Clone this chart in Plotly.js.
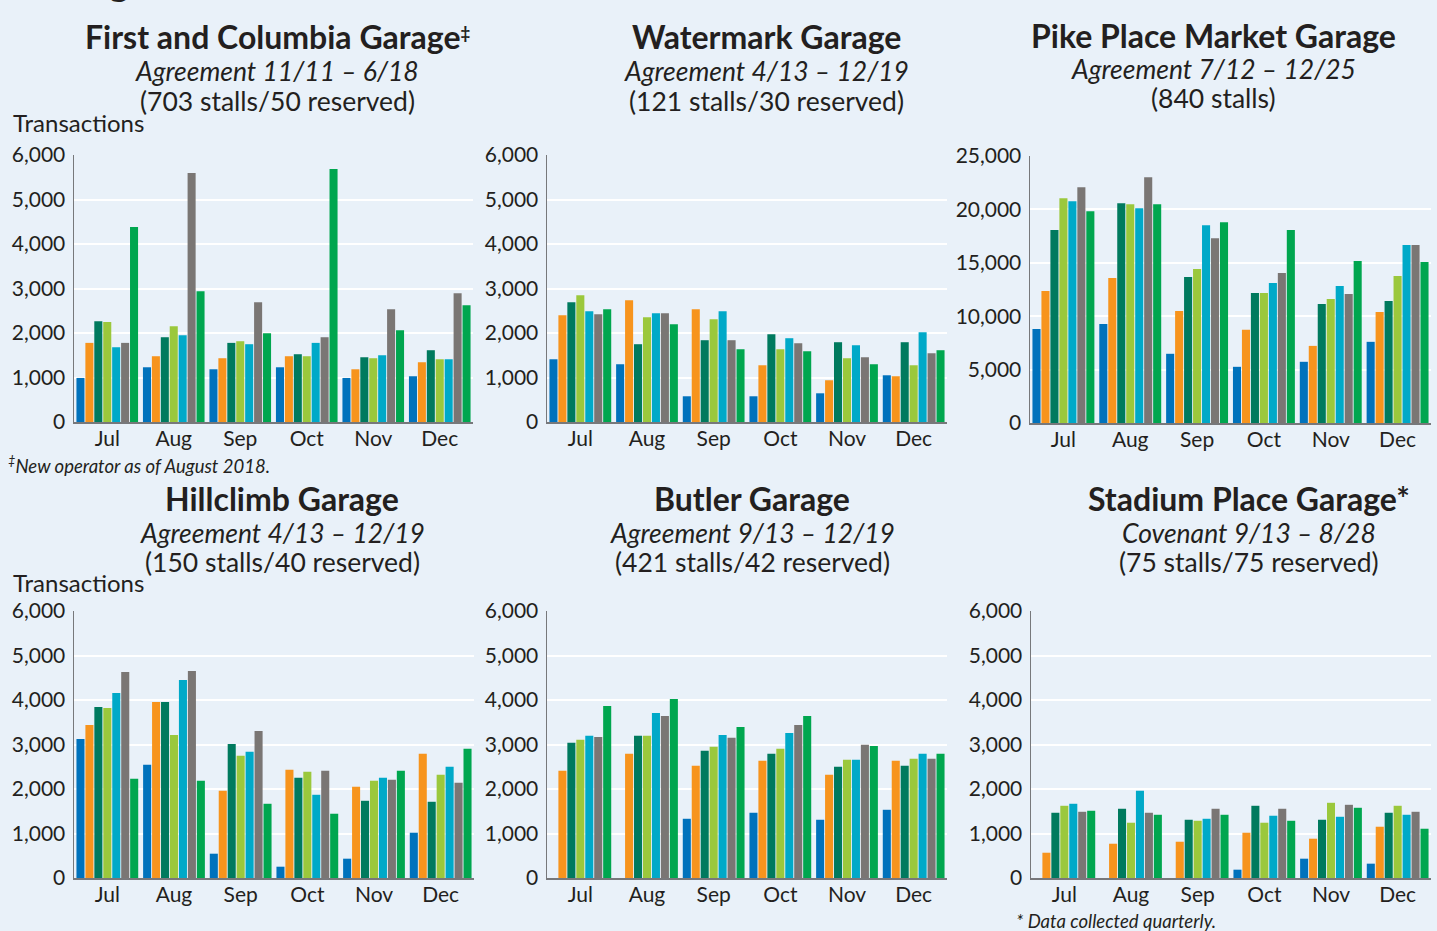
<!DOCTYPE html>
<html>
<head>
<meta charset="utf-8">
<script src="https://cdn.plot.ly/plotly-3.0.1.min.js"></script>
<style>
html,body{margin:0;padding:0;background:#e9f1f9;}
#chart{width:1437px;height:931px;}
</style>
</head>
<body>
<div id="chart"></div>
<script>
// ---- DATA ----
const months = ['Jul', 'Aug', 'Sep', 'Oct', 'Nov', 'Dec'];
const seriesNames = ['Series 1', 'Series 2', 'Series 3', 'Series 4', 'Series 5', 'Series 6', 'Series 7'];
const seriesColors = ['#0072bc', '#f7941d', '#007a5e', '#9bc83c', '#00a9c8', '#7a7674', '#00a64f'];

// rows = series (7), columns = months Jul..Dec
const firstColumbia = [
  [990, 1230, 1185, 1230, 990, 1028],
  [1778, 1478, 1433, 1478, 1185, 1343],
  [2265, 1905, 1778, 1523, 1455, 1613],
  [2250, 2153, 1815, 1478, 1433, 1410],
  [1680, 1950, 1748, 1778, 1500, 1410],
  [1778, 5596, 2693, 1905, 2535, 2895],
  [4380, 2940, 1995, 5686, 2063, 2625]
];
const watermark = [
  [1410, 1298, 578, 578, 645, 1050],
  [2400, 2738, 2535, 1275, 938, 1028],
  [2693, 1748, 1838, 1973, 1793, 1793],
  [2850, 2355, 2310, 1635, 1433, 1275],
  [2490, 2445, 2490, 1883, 1725, 2018],
  [2423, 2445, 1838, 1770, 1455, 1545],
  [2535, 2198, 1635, 1590, 1298, 1613]
];
const pikePlace = [
  [8810, 9280, 6480, 5260, 5730, 7600],
  [12360, 13570, 10490, 8720, 7220, 10400],
  [18060, 20580, 13670, 12170, 11150, 11430],
  [21050, 20490, 14410, 12170, 11610, 13760],
  [20770, 20110, 18520, 13110, 12830, 16660],
  [22070, 23010, 17310, 14040, 12080, 16660],
  [19830, 20490, 18800, 18060, 15160, 15070]
];
const hillclimb = [
  [3126, 2543, 546, 254, 434, 1017],
  [3441, 3957, 1960, 2431, 2049, 2790],
  [3845, 3957, 3014, 2251, 1735, 1713],
  [3822, 3216, 2745, 2386, 2184, 2319],
  [4159, 4450, 2835, 1870, 2251, 2498],
  [4630, 4652, 3306, 2408, 2206, 2139],
  [2229, 2184, 1668, 1444, 2408, 2902]
];
const butler = [
  [null, null, 1331, 1466, 1309, 1533],
  [2408, 2790, 2521, 2633, 2319, 2633],
  [3037, 3194, 2857, 2790, 2498, 2521],
  [3104, 3194, 2947, 2902, 2655, 2678],
  [3194, 3710, 3216, 3261, 2655, 2790],
  [3171, 3642, 3149, 3441, 2992, 2678],
  [3867, 4024, 3396, 3642, 2969, 2790]
];
const stadiumPlace = [
  [null, null, null, 187, 434, 322],
  [568, 770, 815, 1017, 883, 1152],
  [1466, 1556, 1309, 1623, 1309, 1466],
  [1623, 1242, 1286, 1242, 1690, 1623],
  [1668, 1960, 1331, 1399, 1376, 1421],
  [1488, 1466, 1556, 1556, 1645, 1488],
  [1511, 1421, 1421, 1286, 1578, 1107]
];

const garageTitles = ['First and Columbia Garage<span style="font-size:24px"><sup>‡</sup></span>', 'Watermark Garage', 'Pike Place Market Garage',
  'Hillclimb Garage', 'Butler Garage', 'Stadium Place Garage*'];
const garageTerms = ['Agreement 11/11 – 6/18', 'Agreement 4/13 – 12/19', 'Agreement 7/12 – 12/25',
  'Agreement 4/13 – 12/19', 'Agreement 9/13 – 12/19', 'Covenant 9/13 – 8/28'];
const garageStalls = ['(703 stalls/50 reserved)', '(121 stalls/30 reserved)', '(840 stalls)',
  '(150 stalls/40 reserved)', '(421 stalls/42 reserved)', '(75 stalls/75 reserved)'];
const yMax = [6000, 6000, 25000, 6000, 6000, 6000];
const yStep = [1000, 1000, 5000, 1000, 1000, 1000];
const panels = [firstColumbia, watermark, pikePlace, hillclimb, butler, stadiumPlace];

// ---- LAYOUT GEOMETRY (pixels) ----
const W = 1437, H = 931;
const boxes = [
  [74, 473, 155, 422], [547, 947, 155, 422], [1030, 1431, 156, 423],
  [74, 474, 611, 878], [547, 947, 611, 878], [1031, 1431, 611, 878]
];
const titlePos = [[277, 37, 71, 101], [766, 37, 71, 101], [1213, 35, 69, 98],
  [282, 499, 533, 562], [752, 499, 533, 562], [1249, 499, 533, 562]];

const textColor = '#231f20';
const fontFam = 'Lato, "Open Sans", sans-serif';

const traces = [];
const layout = {
  width: W, height: H,
  margin: {l: 0, r: 0, t: 0, b: 0},
  paper_bgcolor: '#e9f1f9', plot_bgcolor: '#e9f1f9',
  barmode: 'group', bargap: 0.06, bargroupgap: 0.1,
  showlegend: false,
  font: {family: fontFam, color: textColor, size: 21},
  annotations: []
};

panels.forEach((data, p) => {
  const n = p + 1;
  const xa = 'x' + (n === 1 ? '' : n), ya = 'y' + (n === 1 ? '' : n);
  data.forEach((vals, s) => {
    traces.push({
      type: 'bar', x: months, y: vals, name: seriesNames[s],
      marker: {color: seriesColors[s], line: {width: 0}},
      xaxis: xa, yaxis: ya, hoverinfo: 'x+y+name'
    });
  });
  const b = boxes[p];
  layout['xaxis' + (n === 1 ? '' : n)] = {
    domain: [b[0] / W, b[1] / W], anchor: ya, automargin: false,
    showline: true, linecolor: '#77787b', linewidth: 2,
    showgrid: false, ticks: '', ticklabelstandoff: -3, tickfont: {size: 21, color: textColor},
    fixedrange: true
  };
  layout['yaxis' + (n === 1 ? '' : n)] = {
    domain: [1 - b[3] / H, 1 - b[2] / H], anchor: xa, automargin: false,
    range: [0, yMax[p]], dtick: yStep[p], tick0: 0, tickformat: ',d',
    showline: true, linecolor: '#77787b', linewidth: 1.5,
    showgrid: true, gridcolor: '#ffffff', gridwidth: 2, zeroline: false,
    ticks: '', ticklabelstandoff: 3, tickfont: {size: 21, color: textColor},
    fixedrange: true
  };
  const t = titlePos[p];
  layout.annotations.push(
    {text: '<b>' + garageTitles[p] + '</b>', x: t[0] / W, y: 1 - t[1] / H, xref: 'paper', yref: 'paper',
     xanchor: 'center', yanchor: 'middle', showarrow: false, font: {size: 32, color: textColor}},
    {text: '<i>' + garageTerms[p] + '</i>', x: t[0] / W, y: 1 - t[2] / H, xref: 'paper', yref: 'paper',
     xanchor: 'center', yanchor: 'middle', showarrow: false, font: {size: 26.5, color: textColor}},
    {text: garageStalls[p], x: t[0] / W, y: 1 - t[3] / H, xref: 'paper', yref: 'paper',
     xanchor: 'center', yanchor: 'middle', showarrow: false, font: {size: 26.5, color: textColor}}
  );
});

layout.annotations.push(
  {text: '<b>g</b>', x: 119 / W, y: 1 - 6 / H, xref: 'paper', yref: 'paper', xanchor: 'center', yanchor: 'bottom',
   showarrow: false, font: {size: 38, color: textColor}},
  {text: 'Transactions', x: 11 / W, y: 1 - 122 / H, xref: 'paper', yref: 'paper', xanchor: 'left', yanchor: 'middle',
   showarrow: false, font: {size: 24, color: textColor}},
  {text: 'Transactions', x: 11 / W, y: 1 - 582 / H, xref: 'paper', yref: 'paper', xanchor: 'left', yanchor: 'middle',
   showarrow: false, font: {size: 24, color: textColor}},
  {text: '<i><sup>‡</sup>New operator as of August 2018.</i>', x: 6 / W, y: 1 - 464 / H, xref: 'paper', yref: 'paper',
   xanchor: 'left', yanchor: 'middle', showarrow: false, font: {size: 18.5, color: textColor}},
  {text: '<i>* Data collected quarterly.</i>', x: 1014 / W, y: 1 - 921 / H, xref: 'paper', yref: 'paper',
   xanchor: 'left', yanchor: 'middle', showarrow: false, font: {size: 18.5, color: textColor}}
);

Plotly.newPlot('chart', traces, layout, {displayModeBar: false, staticPlot: true});
</script>
</body>
</html>
